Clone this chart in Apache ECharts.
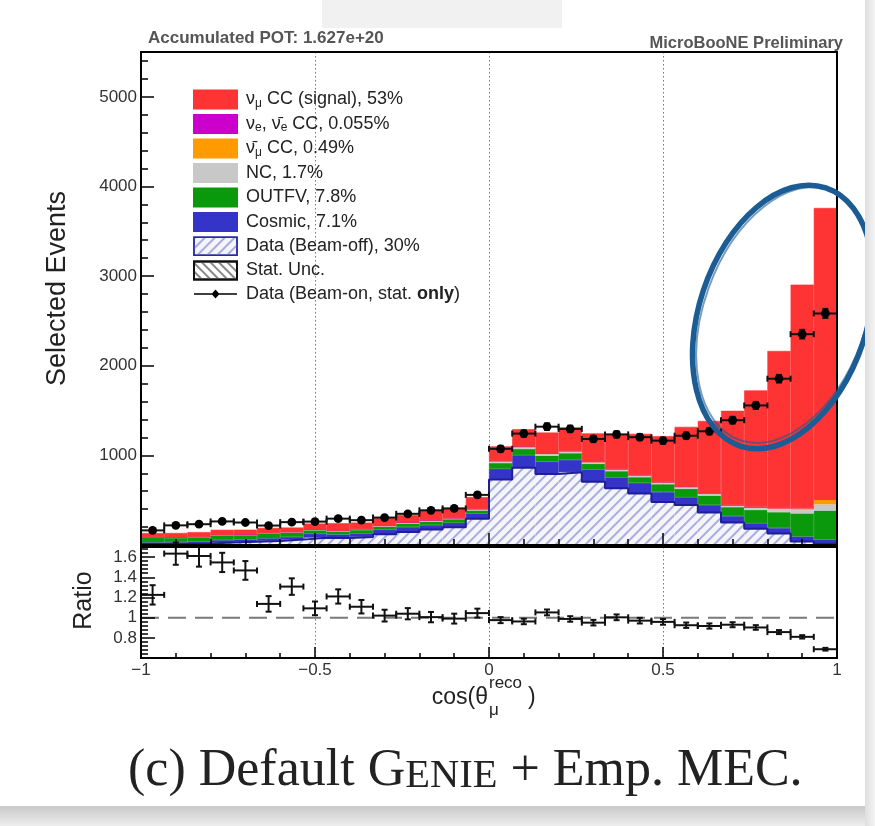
<!DOCTYPE html>
<html>
<head>
<meta charset="utf-8">
<script src="https://cdn.jsdelivr.net/npm/echarts@6/dist/echarts.min.js"></script>
<style>
  html, body { margin: 0; padding: 0; background: #ffffff; }
  #chart { width: 875px; height: 826px; }
</style>
</head>
<body>
<div id="chart"></div>
<script>
// Binning of the reconstructed muon angle
const xMin = -1;
const xMax = 1;
const nBins = 30;

// Beam-on data, events per bin
const dataBeamOn = [163, 219, 232, 263, 251, 217, 255, 261, 294, 277, 306, 348, 387, 408, 559,
                    1073, 1243, 1320, 1295, 1183, 1234, 1203, 1164, 1219, 1269, 1392, 1557, 1855, 2352, 2583];

// Stacked prediction, bottom to top
const beamOff = [11, 13, 17, 28, 35, 46, 60, 82, 78, 90, 120, 146, 174, 199, 293,
                 732, 863, 791, 812, 707, 633, 574, 481, 446, 363, 250, 181, 127, 40, 15];
const cosmic = [19, 19, 19, 27, 25, 29, 30, 43, 40, 40, 50, 54, 48, 49, 59,
                118, 139, 138, 138, 134, 121, 119, 110, 87, 84, 72, 62, 62, 55, 45];
const outFV = [52, 48, 49, 53, 52, 53, 50, 40, 34, 38, 35, 40, 40, 40, 33,
               65, 70, 67, 74, 65, 70, 64, 87, 94, 104, 101, 149, 177, 257, 324];
const nc = [5, 5, 5, 6, 6, 7, 7, 8, 8, 9, 10, 10, 12, 12, 15,
            20, 22, 22, 22, 20, 20, 20, 20, 20, 22, 16, 22, 36, 40, 70];
const numubarCC = [0, 0, 0, 0, 0, 0, 0, 1, 1, 1, 1, 1, 1, 1, 2,
                   3, 3, 3, 3, 3, 3, 3, 4, 4, 5, 6, 8, 12, 22, 56];
const nueCC = [0, 0, 0, 0, 0, 0, 0, 0, 0, 0, 0, 0, 1, 0, 1,
               1, 1, 1, 1, 1, 1, 1, 0, 0, 0, 1, 0, 0, 0, 0];
const numuCC = [46, 49, 54, 56, 53, 56, 48, 65, 82, 72, 84, 84, 109, 111, 132,
                161, 194, 233, 262, 315, 382, 459, 513, 667, 806, 1051, 1303, 1751, 2491, 3250];

// Tick labels
const mainYTicks = [1000, 2000, 3000, 4000, 5000];
const ratioYTicks = [0.8, 1, 1.2, 1.4, 1.6];
const xTicks = [-1, -0.5, 0, 0.5, 1];

// Legend entries
const NAME_NUMU = 'νμ CC (signal), 53%';
const NAME_NUE = 'νe, ν̄e CC, 0.055%';
const NAME_NUMUBAR = 'ν̄μ CC, 0.49%';
const NAME_NC = 'NC, 1.7%';
const NAME_OUTFV = 'OUTFV, 7.8%';
const NAME_COSMIC = 'Cosmic, 7.1%';
const NAME_BEAMOFF = 'Data (Beam-off), 30%';
const NAME_STAT = 'Stat. Unc.';
const NAME_DATA = 'Data (Beam-on, stat. only)';

const legendRich = {
  [NAME_NUMU]: '{p| }{t|ν}{s|μ}{t| CC (signal), 53%}',
  [NAME_NUE]: '{p| }{t|ν}{s|e}{t|, ν\u0304}{s|e}{t| CC, 0.055%}',
  [NAME_NUMUBAR]: '{p| }{t|ν\u0304}{s|μ}{t| CC, 0.49%}',
  [NAME_NC]: '{p| }{t|NC, 1.7%}',
  [NAME_OUTFV]: '{p| }{t|OUTFV, 7.8%}',
  [NAME_COSMIC]: '{p| }{t|Cosmic, 7.1%}',
  [NAME_BEAMOFF]: '{p| }{t|Data (Beam-off), 30%}',
  [NAME_STAT]: '{p| }{t|Stat. Unc.}',
  [NAME_DATA]: '{p| }{t|Data (Beam-on, stat. }{b|only}{t|)}'
};

const FONT = 'Liberation Sans, Arial, Helvetica, sans-serif';
const binWidth = (xMax - xMin) / nBins;
const binCenters = Array.from({ length: nBins }, (_, i) => xMin + (i + 0.5) * binWidth);
const binLabels = binCenters.map(c => c.toFixed(3));

const mcTotal = binCenters.map((_, i) =>
  beamOff[i] + cosmic[i] + outFV[i] + nc[i] + numubarCC[i] + nueCC[i] + numuCC[i]);

// Points with stat-only errors: [x, y, half bin width, error]
const dataPoints = dataBeamOn.map((n, i) => [binCenters[i], n, binWidth / 2, Math.sqrt(n)]);
const ratioPoints = dataBeamOn.map((n, i) => [binCenters[i], n / mcTotal[i], binWidth / 2, Math.sqrt(n) / mcTotal[i]]);

// Beam-off outline as a step line along the bin edges
const beamOffOutline = beamOff.map((v, i) => [xMin + i * binWidth, v])
  .concat([[xMax, beamOff[nBins - 1]]]);

function makeErrorBar(withDot) {
  return function (params, api) {
    const x = api.value(0), y = api.value(1), ex = api.value(2), ey = api.value(3);
    const c = api.coord([x, y]);
    const l = api.coord([x - ex, y]);
    const r = api.coord([x + ex, y]);
    const t = api.coord([x, y + ey]);
    const b = api.coord([x, y - ey]);
    const cap = 3;
    const st = { stroke: '#111', lineWidth: 2 };
    const kids = [
      { type: 'line', shape: { x1: l[0], y1: c[1], x2: r[0], y2: c[1] }, style: st },
      { type: 'line', shape: { x1: c[0], y1: t[1], x2: c[0], y2: b[1] }, style: st },
      { type: 'line', shape: { x1: l[0], y1: c[1] - cap, x2: l[0], y2: c[1] + cap }, style: st },
      { type: 'line', shape: { x1: r[0], y1: c[1] - cap, x2: r[0], y2: c[1] + cap }, style: st },
      { type: 'line', shape: { x1: c[0] - cap, y1: t[1], x2: c[0] + cap, y2: t[1] }, style: st },
      { type: 'line', shape: { x1: c[0] - cap, y1: b[1], x2: c[0] + cap, y2: b[1] }, style: st }
    ];
    if (withDot) {
      kids.push({ type: 'circle', shape: { cx: c[0], cy: c[1], r: 4.4 }, style: { fill: '#000' } });
    }
    return { type: 'group', children: kids };
  };
}

function stackBar(name, values, color, extra) {
  return Object.assign({
    name: name,
    type: 'bar',
    stack: 'mc',
    xAxisIndex: 0,
    yAxisIndex: 0,
    barCategoryGap: '0%',
    data: values,
    z: 2,
    itemStyle: { color: color, borderColor: color, borderWidth: 0.6 },
    emphasis: { disabled: true },
    animation: false
  }, extra || {});
}

const hatchBeamOff = {
  symbol: 'rect', symbolSize: 1, rotation: -Math.PI / 4,
  dashArrayX: [1, 0], dashArrayY: [1.2, 4.2], color: '#a9acdc'
};
const hatchStat = {
  symbol: 'rect', symbolSize: 1, rotation: Math.PI / 4,
  dashArrayX: [1, 0], dashArrayY: [1.2, 3.5], color: '#888888'
};

const fmtX = v => (v < 0 ? '\u2212' + Math.abs(v) : String(v));

const chart = echarts.init(document.getElementById('chart'), null, { renderer: 'canvas' });

const tickStyle = { color: '#000', width: 1.5 };

chart.setOption({
  animation: false,
  textStyle: { fontFamily: FONT },
  title: [
    { text: 'Accumulated POT: 1.627e+20', left: 143, top: 25,
      textStyle: { fontFamily: FONT, fontSize: 17, fontWeight: 'bold', color: '#555' } },
    { text: 'MicroBooNE Preliminary', right: 27, top: 30,
      textStyle: { fontFamily: FONT, fontSize: 16.5, fontWeight: 'bold', color: '#555' } }
  ],
  legend: {
    orient: 'vertical', left: 193, top: 89.5, padding: 0,
    itemWidth: 43, itemHeight: 18, itemGap: 4.5,
    icon: 'rect',
    selectedMode: false,
    data: [
      NAME_NUMU, NAME_NUE, NAME_NUMUBAR, NAME_NC, NAME_OUTFV, NAME_COSMIC,
      { name: NAME_BEAMOFF, itemStyle: { borderColor: '#2a2aa8', borderWidth: 1.5 } },
      NAME_STAT,
      { name: NAME_DATA,
        icon: 'path://M0,0h0.1v0.1h-0.1z M42.9,17.9h0.1v0.1h-0.1z M0,8.2h43v1.6h-43z M21.5,4.5l4,4.5l-4,4.5l-4,-4.5z' }
    ],
    formatter: name => legendRich[name] || name,
    textStyle: {
      fontFamily: FONT, fontSize: 18, color: '#222',
      rich: {
        p: { width: 4, fontSize: 18, lineHeight: 19 },
        t: { fontFamily: FONT, fontSize: 18, lineHeight: 19, color: '#222' },
        b: { fontFamily: FONT, fontSize: 18, lineHeight: 19, color: '#222', fontWeight: 'bold' },
        s: { fontFamily: FONT, fontSize: 12, lineHeight: 11, color: '#222', padding: [8, 0, 0, 0] }
      }
    }
  },
  grid: [
    { left: 141, top: 52, width: 696, height: 493, show: true, z: 10,
      borderColor: '#000', borderWidth: 2, backgroundColor: 'transparent' },
    { left: 141, top: 547, width: 696, height: 111, show: true, z: 10,
      borderColor: '#000', borderWidth: 2, backgroundColor: 'transparent' }
  ],
  xAxis: [
    { type: 'category', gridIndex: 0, data: binLabels, boundaryGap: true, show: false, position: 'bottom' },
    { type: 'value', gridIndex: 0, min: xMin, max: xMax, interval: 0.5, position: 'bottom', z: 10,
      axisLine: { show: true, onZero: false, lineStyle: { color: '#000', width: 2 } },
      axisTick: { show: true, inside: true, length: 12, lineStyle: tickStyle },
      minorTick: { show: true, splitNumber: 5, length: 6, lineStyle: tickStyle },
      axisLabel: { show: false }, splitLine: { show: false } },
    { type: 'value', gridIndex: 0, min: xMin, max: xMax, interval: 0.5, position: 'bottom', z: 0,
      axisLine: { show: false }, axisTick: { show: false }, axisLabel: { show: false },
      splitLine: { show: true, lineStyle: { color: '#777', width: 1, type: [1.5, 2.5] } } },
    { type: 'value', gridIndex: 1, min: xMin, max: xMax, interval: 0.5, position: 'bottom', z: 10,
      axisLine: { show: true, onZero: false, lineStyle: { color: '#000', width: 2 } },
      axisTick: { show: true, inside: true, length: 11, lineStyle: tickStyle },
      minorTick: { show: true, splitNumber: 5, length: 5, lineStyle: tickStyle },
      axisLabel: { show: true, fontSize: 17, color: '#333', margin: 4, fontFamily: FONT,
        formatter: v => (xTicks.indexOf(v) >= 0 ? fmtX(v) : '') },
      splitLine: { show: false } },
    { type: 'value', gridIndex: 1, min: xMin, max: xMax, interval: 0.5, position: 'bottom', z: 0,
      axisLine: { show: false }, axisTick: { show: false }, axisLabel: { show: false },
      splitLine: { show: true, lineStyle: { color: '#777', width: 1, type: [1.5, 2.5] } } }
  ],
  yAxis: [
    { type: 'value', gridIndex: 0, min: 0, max: 5500, interval: 1000, z: 10,
      name: 'Selected Events', nameLocation: 'middle', nameGap: 70,
      nameTextStyle: { fontFamily: FONT, fontSize: 27, color: '#222', padding: [0, 0, 0, 20] },
      axisLine: { show: true, onZero: false, lineStyle: { color: '#000', width: 2 } },
      axisTick: { show: true, inside: true, length: 13, lineStyle: tickStyle },
      minorTick: { show: true, splitNumber: 5, length: 7, lineStyle: tickStyle },
      axisLabel: { fontSize: 17, color: '#333', margin: 4, fontFamily: FONT,
        formatter: v => (mainYTicks.indexOf(v) >= 0 ? String(v) : '') },
      splitLine: { show: false } },
    { type: 'value', gridIndex: 1, min: 0.6, max: 1.7, interval: 0.2, z: 10,
      name: 'Ratio', nameLocation: 'middle', nameGap: 44,
      nameTextStyle: { fontFamily: FONT, fontSize: 25, color: '#222', padding: [0, 0, 0, 4] },
      axisLine: { show: true, onZero: false, lineStyle: { color: '#000', width: 2 } },
      axisTick: { show: true, inside: true, length: 14, lineStyle: tickStyle },
      minorTick: { show: true, splitNumber: 5, length: 7, lineStyle: tickStyle },
      axisLabel: { fontSize: 17, color: '#333', margin: 4, fontFamily: FONT,
        formatter: v => {
          const hit = ratioYTicks.find(t => Math.abs(t - v) < 1e-6);
          return hit === undefined ? '' : String(hit);
        } },
      splitLine: { show: false } }
  ],
  series: [
    stackBar(NAME_BEAMOFF, beamOff, '#f4f4fb', { itemStyle: { color: '#f4f4fb', decal: hatchBeamOff } }),
    stackBar(NAME_COSMIC, cosmic, '#3434c8'),
    stackBar(NAME_OUTFV, outFV, '#0a990a'),
    stackBar(NAME_NC, nc, '#c8c8c8'),
    stackBar(NAME_NUMUBAR, numubarCC, '#ff9a00'),
    stackBar(NAME_NUE, nueCC, '#cc00cc'),
    stackBar(NAME_NUMU, numuCC, '#fe3333'),
    stackBar(NAME_STAT, [], '#ffffff', {
      itemStyle: { color: '#ffffff', borderColor: '#111', borderWidth: 1.5, decal: hatchStat } }),
    {
      name: 'beam-off outline', type: 'line', xAxisIndex: 1, yAxisIndex: 0,
      data: beamOffOutline, step: 'end', symbol: 'none', z: 3,
      lineStyle: { color: '#1e1e96', width: 2 }, silent: true, animation: false
    },
    {
      name: NAME_DATA, type: 'custom', xAxisIndex: 1, yAxisIndex: 0, z: 5,
      data: dataPoints, renderItem: makeErrorBar(true),
      itemStyle: { color: '#000' }, encode: { x: 0, y: 1 }, animation: false
    },
    {
      name: 'unity', type: 'line', xAxisIndex: 3, yAxisIndex: 1, z: 3,
      data: [[xMin, 1], [xMax, 1]], symbol: 'none', silent: true,
      lineStyle: { color: '#7a7a7a', width: 2, type: [18, 9] }, animation: false
    },
    {
      name: 'ratio', type: 'custom', xAxisIndex: 3, yAxisIndex: 1, z: 5,
      data: ratioPoints, renderItem: makeErrorBar(false),
      itemStyle: { color: '#000' }, encode: { x: 0, y: 1 }, animation: false
    }
  ],
  graphic: [
    // faint strip at the top edge
    { type: 'rect', shape: { x: 322, y: 0, width: 240, height: 28 }, style: { fill: '#f1f1f1' }, z: -1 },
    // axis title cos(theta_mu^reco)
    { type: 'text', x: 488, y: 698, z: 20,
      style: { text: 'cos(θ', font: '23px ' + FONT, fill: '#222', textAlign: 'right', textVerticalAlign: 'middle' } },
    { type: 'text', x: 489, y: 683, z: 20,
      style: { text: 'reco', font: '17px ' + FONT, fill: '#222', textAlign: 'left', textVerticalAlign: 'middle' } },
    { type: 'text', x: 489, y: 710, z: 20,
      style: { text: 'μ', font: '17px ' + FONT, fill: '#222', textAlign: 'left', textVerticalAlign: 'middle' } },
    { type: 'text', x: 528, y: 698, z: 20,
      style: { text: ')', font: '23px ' + FONT, fill: '#222', textAlign: 'left', textVerticalAlign: 'middle' } },
    // caption
    { type: 'text', x: 128, y: 771, z: 20,
      style: {
        text: '{n|(c) Default G}{c|ENIE}{n| + Emp. MEC.}',
        textVerticalAlign: 'middle',
        rich: {
          n: { fontFamily: 'Liberation Serif, serif', fontSize: 52, fill: '#222', verticalAlign: 'bottom' },
          c: { fontFamily: 'Liberation Serif, serif', fontSize: 40.5, fill: '#222', verticalAlign: 'bottom' }
        }
      } },
    // hand-drawn ring around the forward bins
    { type: 'ellipse', x: 783, y: 317, rotation: -0.32, z: 30,
      shape: { cx: 0, cy: 0, rx: 84, ry: 136 },
      style: { fill: 'none', stroke: '#1b5c95', lineWidth: 5.5 } },
    { type: 'ellipse', x: 785, y: 315, rotation: -0.35, z: 30,
      shape: { cx: 0, cy: 0, rx: 81, ry: 133 },
      style: { fill: 'none', stroke: '#1b5c95', lineWidth: 2, opacity: 0.6 } },
    // paper shadow along the bottom and right edges
    { type: 'rect', shape: { x: 0, y: 806, width: 875, height: 20 }, z: 40,
      style: { fill: new echarts.graphic.LinearGradient(0, 0, 0, 1, [
        { offset: 0, color: '#c9c9c9' }, { offset: 1, color: '#ededed' }]) } },
    { type: 'rect', shape: { x: 865, y: 0, width: 10, height: 826 }, z: 40,
      style: { fill: new echarts.graphic.LinearGradient(0, 0, 1, 0, [
        { offset: 0, color: '#dedede' }, { offset: 1, color: '#f5f5f5' }]) } }
  ]
});
</script>
</body>
</html>
